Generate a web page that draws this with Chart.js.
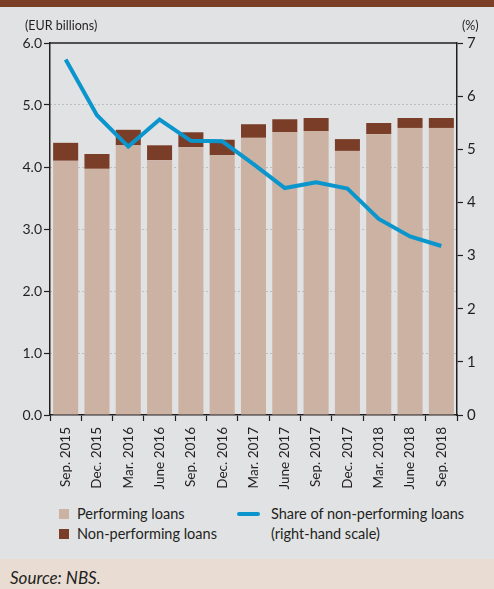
<!DOCTYPE html>
<html>
<head>
<meta charset="utf-8">
<script src="https://cdn.jsdelivr.net/npm/chart.js@4.4.0/dist/chart.umd.min.js"></script>
<style>
  html, body { margin: 0; padding: 0; }
  body { width: 494px; height: 589px; position: relative; background: #e1e2e4; font-family: Lato, "Open Sans", sans-serif; color: #231f20; overflow: hidden; }
  #band { position: absolute; left: 0; top: 0; width: 494px; height: 7px; background: #7b3f28; }
  #chart { position: absolute; left: 0; top: 0; }
  .unit { position: absolute; font-size: 12.5px; line-height: 14px; }
  #legend { position: absolute; left: 0; top: 504px; width: 494px; font-size: 14.5px; line-height: 20px; }
  .item { position: absolute; white-space: nowrap; }
  .sw { position: absolute; }
  #footer { position: absolute; left: 0; top: 559px; width: 494px; height: 30px; background: #e9ddd3; }
  #footer span { position: absolute; left: 10px; top: 9px; font-style: italic; font-size: 17px; line-height: 20px; }
</style>
</head>
<body>
<div id="band"></div>
<canvas id="chart" width="494" height="490"></canvas>
<div class="unit" style="left:25px; top:19px;">(EUR billions)</div>
<div class="unit" style="left:462px; top:19px;">(%)</div>
<div id="legend"></div>
<div id="footer"><span>Source: NBS.</span></div>
<script>
const categories = ['Sep. 2015','Dec. 2015','Mar. 2016','June 2016','Sep. 2016','Dec. 2016','Mar. 2017','June 2017','Sep. 2017','Dec. 2017','Mar. 2018','June 2018','Sep. 2018'];
const performingLoans = [4.10, 3.97, 4.35, 4.11, 4.32, 4.19, 4.47, 4.56, 4.58, 4.26, 4.53, 4.63, 4.63];
const nonPerformingLoans = [0.29, 0.24, 0.25, 0.24, 0.24, 0.25, 0.22, 0.21, 0.21, 0.19, 0.18, 0.16, 0.16];
const nplShare = [6.69, 5.64, 5.05, 5.56, 5.16, 5.15, 4.72, 4.27, 4.38, 4.26, 3.69, 3.36, 3.18];
const leftTicks = [0, 1, 2, 3, 4, 5, 6];
const rightTicks = [0, 1, 2, 3, 4, 5, 6, 7];
const seriesLabels = ['Performing loans', 'Non-performing loans', 'Share of non-performing loans', '(right-hand scale)'];

const COL_PERF = '#cbb2a3';
const COL_NPL = '#7a3e28';
const COL_LINE = '#0a96cc';
const AXIS = '#231f20';

const topBorder = {
  id: 'topBorder',
  afterDraw(chart) {
    const {ctx, chartArea} = chart;
    ctx.save();
    ctx.strokeStyle = AXIS;
    ctx.lineWidth = 1.5;
    ctx.beginPath();
    ctx.moveTo(chartArea.left, chartArea.top);
    ctx.lineTo(chartArea.right, chartArea.top);
    ctx.stroke();
    ctx.restore();
  }
};

new Chart(document.getElementById('chart'), {
  type: 'bar',
  data: {
    labels: categories,
    datasets: [
      { type: 'bar', label: seriesLabels[0], data: performingLoans, backgroundColor: COL_PERF, yAxisID: 'y', order: 1, barPercentage: 0.8, categoryPercentage: 1 },
      { type: 'bar', label: seriesLabels[1], data: nonPerformingLoans, backgroundColor: COL_NPL, yAxisID: 'y', order: 1, barPercentage: 0.8, categoryPercentage: 1 },
      { type: 'line', label: seriesLabels[2], data: nplShare, borderColor: COL_LINE, borderWidth: 4, pointRadius: 0, tension: 0, yAxisID: 'y2', order: 0, borderJoinStyle: 'miter' }
    ]
  },
  options: {
    responsive: false,
    maintainAspectRatio: false,
    animation: false,
    devicePixelRatio: 1,
    layout: { padding: { top: 43, left: 0, right: 0, bottom: 0 } },
    plugins: { legend: { display: false }, tooltip: { enabled: false } },
    scales: {
      x: {
        stacked: true,
        offset: true,
        grid: { offset: true, drawOnChartArea: false, drawTicks: true, tickLength: 6, tickColor: AXIS, tickWidth: 1.2 },
        border: { display: true, color: AXIS, width: 1.5 },
        ticks: { autoSkip: false, minRotation: 90, maxRotation: 90, padding: 6, color: AXIS, font: { family: 'Lato', size: 13.5 } },
        afterFit(scale) { scale.height = 75; }
      },
      y: {
        position: 'left',
        stacked: true,
        min: 0, max: 6,
        afterBuildTicks(scale) { scale.ticks = leftTicks.map(v => ({ value: v })); },
        grid: {
          drawOnChartArea: true,
          color: (c) => (c.tick && (c.tick.value === 0 || c.tick.value === 6)) ? 'rgba(0,0,0,0)' : '#9b9b9b',
          lineWidth: 1,
          tickLength: 6, tickColor: AXIS, tickWidth: 1.2
        },
        border: { display: true, color: AXIS, width: 1.5, dash: [1, 3] },
        ticks: { padding: 2, color: AXIS, font: { family: 'Lato', size: 14 }, callback: (v) => Number(v).toFixed(1) },
        afterFit(scale) { scale.width = 50; }
      },
      y2: {
        position: 'right',
        min: 0, max: 7,
        afterBuildTicks(scale) { scale.ticks = rightTicks.map(v => ({ value: v })); },
        grid: { drawOnChartArea: false, tickLength: 6, tickColor: AXIS, tickWidth: 1.2 },
        border: { display: true, color: AXIS, width: 1.5 },
        ticks: { padding: 4, color: AXIS, font: { family: 'Lato', size: 15 }, callback: (v) => String(v) },
        afterFit(scale) { scale.width = 37; }
      }
    }
  },
  plugins: [topBorder]
});

// HTML legend built from the series labels
const legend = document.getElementById('legend');
legend.innerHTML =
  '<div class="sw" style="left:59px; top:5px; width:10px; height:10px; background:' + COL_PERF + ';"></div>' +
  '<div class="item" style="left:77px; top:0px;">' + seriesLabels[0] + '</div>' +
  '<div class="sw" style="left:59px; top:25px; width:10px; height:10px; background:' + COL_NPL + ';"></div>' +
  '<div class="item" style="left:77px; top:20px;">' + seriesLabels[1] + '</div>' +
  '<div class="sw" style="left:237px; top:8px; width:23px; height:4px; border-radius:2px; background:' + COL_LINE + ';"></div>' +
  '<div class="item" style="left:271px; top:0px;">' + seriesLabels[2] + '</div>' +
  '<div class="item" style="left:271px; top:20px;">' + seriesLabels[3] + '</div>';
</script>
</body>
</html>
